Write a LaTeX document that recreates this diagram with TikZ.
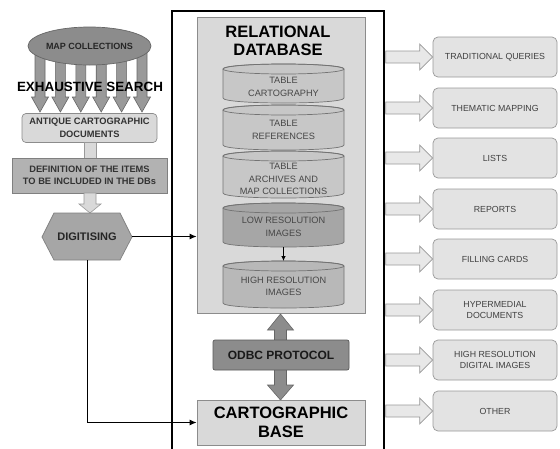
\documentclass[tikz,border=0pt]{standalone}
\usepackage{fontspec}
\setmainfont{Liberation Sans}
\usetikzlibrary{shapes.geometric,arrows.meta,calc}
\newcommand{\dbcyl}[3]{% #1 top-centre y, #2 side-bottom y, #3 fill
  \filldraw[cylline, fill=#3] (223,#1) -- (223,#2) .. controls (223,#2+6.67) and (344,#2+6.67) .. (344,#2) -- (344,#1) .. controls (344,#1-6.67) and (223,#1-6.67) .. (223,#1) -- cycle;
  \draw[cylline] (283.5,#1) ellipse[x radius=60.5, y radius=5];
}
\begin{document}
\begin{tikzpicture}[x=1pt,y=-1pt,
  cylline/.style={draw=black!55, line width=0.7pt},
  cyltext/.style={align=center, text=black!72, font=\fontsize{9.2}{12.5}\selectfont, inner sep=0pt},
  outbox/.style={draw=black!40, fill=black!11, rounded corners=5pt, minimum width=124pt, minimum height=40pt, text=black!75, align=center, font=\fontsize{8.8}{11.5}\selectfont, line width=0.7pt, inner sep=0pt},
  hollow/.style={draw=black!40, fill=black!9, line width=0.7pt},
  fatarrow/.style={draw=black!60, fill=black!40, line width=0.6pt},
  lightarrow/.style={draw=black!40, fill=black!15, line width=0.6pt},
  conn/.style={line width=1pt, -{Latex[length=7pt,width=6pt]}}
]
\useasboundingbox (0,0) rectangle (560,448);
\fill[white] (0,0) rectangle (560,448);

% frame
\draw[line width=1.8pt] (172,449) -- (172,11) -- (384,11) -- (384,449);

% relational database panel
\node[draw=black!45, fill=black!15, minimum width=168pt, minimum height=296pt, inner sep=0pt, line width=0.8pt] (db) at (281,165) {};
\node[font=\bfseries\fontsize{16.5}{18.5}\selectfont, align=center, inner sep=0pt] (rdb) at (278,41) {RELATIONAL\\DATABASE};

\dbcyl{69}{98}{black!22}
\node[cyltext] (c1) at (283.5,87) {TABLE\\CARTOGRAPHY};
\dbcyl{110}{145}{black!22}
\node[cyltext] (c2) at (283.5,130) {TABLE\\REFERENCES};
\dbcyl{156}{193}{black!22}
\node[cyltext] (c3) at (283.5,179) {TABLE\\ARCHIVES AND\\MAP COLLECTIONS};
\dbcyl{208}{242}{black!35}
\node[cyltext] (c4) at (283.5,227) {LOW RESOLUTION\\IMAGES};
\dbcyl{266}{303}{black!28}
\node[cyltext] (c5) at (283.5,286.5) {HIGH RESOLUTION\\IMAGES};
\coordinate (lrb) at (283.5,247);
\coordinate (hrt) at (283.5,261);
\draw[line width=0.8pt, -{Latex[length=5pt,width=4.5pt]}] (lrb) -- (hrt);

% double arrow and ODBC
\filldraw[draw=black!60, fill=black!45, line width=0.6pt] (274.5,330) -- (267.5,330) -- (280.5,314) -- (293.5,330) -- (286.5,330) -- (286.5,385) -- (293.5,385) -- (280.5,400) -- (267.5,385) -- (274.5,385) -- cycle;
\node[draw=black!65, fill=black!45, rounded corners=2pt, minimum width=136pt, minimum height=30pt, font=\bfseries\fontsize{12}{14}\selectfont, text=black!90, inner sep=0pt, line width=0.7pt] (odbc) at (281,355) {ODBC PROTOCOL};

% cartographic base
\node[draw=black!45, fill=black!15, minimum width=168pt, minimum height=45pt, font=\bfseries\fontsize{16.5}{19}\selectfont, align=center, inner sep=0pt, line width=0.8pt] (cb) at (281,422.5) {CARTOGRAPHIC\\BASE};

% outputs
\foreach \n/\t/\y in {1/TRADITIONAL QUERIES/57, 2/THEMATIC MAPPING/108, 3/LISTS/158, 4/REPORTS/209, 5/FILLING CARDS/259, 6/{HYPERMEDIAL\\DOCUMENTS}/310, 7/{HIGH RESOLUTION\\DIGITAL IMAGES}/360, 8/OTHER/411}{
  \node[outbox] (o\n) at (495,\y) {\t};
  \filldraw[hollow] ([shift={(-47,-6)}]o\n.west) -- ([shift={(-13,-6)}]o\n.west) -- ([shift={(-13,-13)}]o\n.west) -- (o\n.west) -- ([shift={(-13,13)}]o\n.west) -- ([shift={(-13,6)}]o\n.west) -- ([shift={(-47,6)}]o\n.west) -- cycle;
}

% left side: map collections
\foreach \k in {0,...,5}{
  \pgfmathsetmacro\ax{40+20.4*\k}
  \filldraw[fatarrow] (\ax-5,50) -- (\ax-5,97) -- (\ax-8.5,97) -- (\ax,112) -- (\ax+8.5,97) -- (\ax+5,97) -- (\ax+5,50) -- cycle;
}
\node[ellipse, draw=black!60, fill=black!45, minimum width=117pt, minimum height=38pt, inner sep=0pt, font=\bfseries\fontsize{9}{10}\selectfont, text=black!85, line width=0.7pt] (mc) at (89.5,46) {MAP COLLECTIONS};
\node[font=\bfseries\fontsize{13.4}{15}\selectfont, inner sep=0pt] (es) at (90,87) {EXHAUSTIVE SEARCH};

\node[draw=black!45, fill=black!15, rounded corners=4pt, minimum width=135pt, minimum height=29pt, align=center, font=\bfseries\fontsize{9.3}{13}\selectfont, text=black!80, inner sep=0pt, line width=0.7pt] (ant) at (89.5,128) {ANTIQUE CARTOGRAPHIC\\DOCUMENTS};
\filldraw[lightarrow] (84,142.5) rectangle (96,158);
\node[draw=black!50, fill=black!30, minimum width=155pt, minimum height=35pt, align=center, font=\bfseries\fontsize{9.3}{12}\selectfont, text=black!80, inner sep=0pt, line width=0.7pt] (def) at (89.5,175.5) {DEFINITION OF THE ITEMS\\TO BE INCLUDED IN THE DBs};
\filldraw[lightarrow] (84,193) -- (84,204) -- (79,204) -- (90,213) -- (101,204) -- (96,204) -- (96,193) -- cycle;

\filldraw[draw=black!50, fill=black!35, line width=0.7pt] (42,237) -- (54,213) -- (120,213) -- (132,237) -- (120,260) -- (54,260) -- cycle;
\node[minimum width=90pt, minimum height=47pt, inner sep=0pt, font=\bfseries\fontsize{11}{12}\selectfont, text=black!85] (dig) at (87,236.5) {DIGITISING};

\draw[conn] (dig.east) -- (dig.east -| db.west);
\draw[conn] (dig.south) |- (cb.west);
\end{tikzpicture}
\end{document}
